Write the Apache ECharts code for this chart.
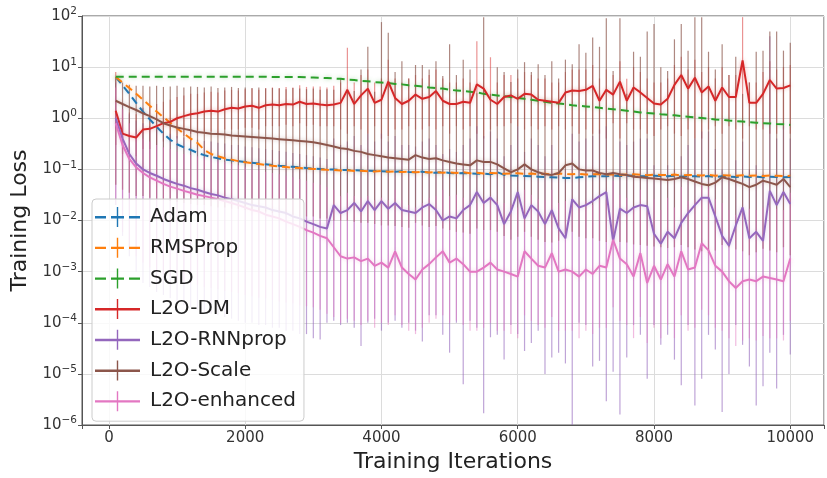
<!DOCTYPE html>
<html>
<head>
<meta charset="utf-8">
<script src="https://cdn.jsdelivr.net/npm/echarts@6/dist/echarts.min.js"></script>
<style>
  html, body { margin: 0; padding: 0; background: #fff; }
  #chart { width: 827px; height: 478px; }
</style>
</head>
<body>
<div id="chart"></div>
<script>
// Training iterations at which each optimizer was evaluated
const iterations = [
  100, 200, 300, 400, 500, 600, 700, 800, 900, 1000,
  1100, 1200, 1300, 1400, 1500, 1600, 1700, 1800, 1900, 2000,
  2100, 2200, 2300, 2400, 2500, 2600, 2700, 2800, 2900, 3000,
  3100, 3200, 3300, 3400, 3500, 3600, 3700, 3800, 3900, 4000,
  4100, 4200, 4300, 4400, 4500, 4600, 4700, 4800, 4900, 5000,
  5100, 5200, 5300, 5400, 5500, 5600, 5700, 5800, 5900, 6000,
  6100, 6200, 6300, 6400, 6500, 6600, 6700, 6800, 6900, 7000,
  7100, 7200, 7300, 7400, 7500, 7600, 7700, 7800, 7900, 8000,
  8100, 8200, 8300, 8400, 8500, 8600, 8700, 8800, 8900, 9000,
  9100, 9200, 9300, 9400, 9500, 9600, 9700, 9800, 9900, 10000
];

// Mean training loss per optimizer
const adamLoss = [
  6.4, 4.4, 3.0, 2.0, 1.35, 0.95, 0.68, 0.5, 0.38, 0.31,
  0.27, 0.24, 0.21, 0.19, 0.175, 0.165, 0.155, 0.15, 0.145, 0.14,
  0.135, 0.13, 0.126, 0.122, 0.118, 0.115, 0.112, 0.109, 0.106, 0.104,
  0.102, 0.1, 0.099, 0.098, 0.097, 0.096, 0.095, 0.094, 0.093, 0.092,
  0.091, 0.09, 0.092, 0.089, 0.088, 0.09, 0.087, 0.086, 0.088, 0.085,
  0.084, 0.085, 0.083, 0.082, 0.083, 0.08, 0.088, 0.078, 0.076, 0.075,
  0.074, 0.073, 0.072, 0.071, 0.07, 0.069, 0.068, 0.068, 0.07, 0.072,
  0.073, 0.074, 0.073, 0.075, 0.074, 0.075, 0.076, 0.074, 0.073, 0.075,
  0.074, 0.073, 0.075, 0.072, 0.074, 0.073, 0.072, 0.074, 0.071, 0.073,
  0.072, 0.071, 0.073, 0.071, 0.072, 0.07, 0.072, 0.071, 0.07, 0.071
];
const rmspropLoss = [
  6.4, 5.0, 3.9, 3.0, 2.3, 1.75, 1.35, 1.05, 0.82, 0.64,
  0.5, 0.4, 0.33, 0.24, 0.2, 0.18, 0.165, 0.155, 0.145, 0.138,
  0.132, 0.127, 0.122, 0.118, 0.114, 0.111, 0.108, 0.106, 0.104, 0.102,
  0.1, 0.098, 0.097, 0.095, 0.096, 0.093, 0.094, 0.092, 0.091, 0.093,
  0.09, 0.091, 0.089, 0.09, 0.088, 0.09, 0.087, 0.088, 0.086, 0.087,
  0.085, 0.088, 0.084, 0.086, 0.083, 0.085, 0.084, 0.082, 0.083, 0.084,
  0.082, 0.083, 0.081, 0.082, 0.08, 0.083, 0.081, 0.08, 0.082, 0.079,
  0.08, 0.081, 0.079, 0.08, 0.078, 0.079, 0.08, 0.078, 0.077, 0.079,
  0.078, 0.077, 0.079, 0.076, 0.078, 0.077, 0.076, 0.078, 0.075, 0.077,
  0.076, 0.075, 0.077, 0.075, 0.076, 0.074, 0.076, 0.075, 0.074, 0.075
];
const sgdLoss = [
  6.5, 6.5, 6.5, 6.5, 6.5, 6.5, 6.5, 6.5, 6.5, 6.5,
  6.5, 6.5, 6.5, 6.5, 6.5, 6.5, 6.5, 6.5, 6.5, 6.5,
  6.5, 6.5, 6.5, 6.4, 6.4, 6.4, 6.4, 6.4, 6.3, 6.3,
  6.2, 6.1, 6.0, 5.9, 5.7, 5.6, 5.4, 5.3, 5.1, 5.0,
  4.9, 4.7, 4.6, 4.4, 4.3, 4.2, 4.0, 3.9, 3.8, 3.6,
  3.5, 3.4, 3.3, 3.2, 3.0, 2.9, 2.8, 2.7, 2.6, 2.5,
  2.4, 2.3, 2.2, 2.1, 2.0, 1.95, 1.9, 1.8, 1.75, 1.7,
  1.65, 1.6, 1.55, 1.5, 1.45, 1.4, 1.35, 1.3, 1.27, 1.24,
  1.2, 1.17, 1.14, 1.1, 1.07, 1.04, 1.01, 0.98, 0.95, 0.93,
  0.9, 0.88, 0.86, 0.84, 0.82, 0.8, 0.79, 0.77, 0.76, 0.74
];
const dmLoss = [
  1.4, 0.5, 0.45, 0.42, 0.6, 0.62, 0.7, 0.8, 0.85, 1.0,
  1.1, 1.2, 1.25, 1.35, 1.4, 1.35, 1.5, 1.6, 1.55, 1.7,
  1.75, 1.6, 1.8, 1.85, 1.8, 1.9, 1.85, 2.1, 1.9, 1.95,
  1.85, 1.8, 1.85, 2.0, 3.6, 1.9, 2.8, 3.8, 2.0, 2.3,
  5.2, 2.5, 1.9, 2.2, 2.9, 2.4, 2.6, 3.4, 2.2, 1.9,
  1.9, 2.1, 2.0, 4.6, 3.8, 2.3, 1.9, 2.6, 2.8, 2.4,
  3.0, 2.9, 2.3, 2.2, 2.1, 2.0, 3.2, 3.5, 3.4, 3.6,
  4.3, 2.2, 3.6, 2.9, 5.2, 2.2, 4.0, 3.2, 2.5, 1.95,
  1.85, 2.4, 4.5, 7.0, 3.8, 6.2, 3.2, 4.2, 2.2, 4.0,
  2.6, 2.6, 13.5, 2.0, 2.0, 3.0, 5.6, 3.8, 3.9, 4.4
];
const rnnpropLoss = [
  1.0, 0.4, 0.2, 0.13, 0.1, 0.085, 0.075, 0.065, 0.058, 0.052,
  0.048, 0.043, 0.04, 0.036, 0.033, 0.031, 0.028, 0.026, 0.024, 0.022,
  0.02, 0.019, 0.018, 0.016, 0.015, 0.014, 0.012, 0.011, 0.0095, 0.0085,
  0.0075, 0.007, 0.02, 0.014, 0.016, 0.022, 0.015, 0.024, 0.016, 0.024,
  0.017, 0.022, 0.016, 0.015, 0.014, 0.018, 0.021, 0.016, 0.01, 0.012,
  0.011, 0.016, 0.02, 0.036, 0.022, 0.028, 0.02, 0.0085, 0.015, 0.036,
  0.011, 0.02, 0.015, 0.0085, 0.016, 0.007, 0.0045, 0.026, 0.018, 0.02,
  0.024, 0.03, 0.036, 0.004, 0.017, 0.014, 0.018, 0.02, 0.019, 0.0055,
  0.0035, 0.006, 0.0045, 0.009, 0.014, 0.02, 0.028, 0.028, 0.012, 0.005,
  0.0032, 0.008, 0.018, 0.0045, 0.006, 0.004, 0.038, 0.02, 0.036, 0.021
];
const scaleLoss = [
  2.2, 1.9, 1.65, 1.45, 1.25, 1.1, 0.95, 0.8, 0.72, 0.66,
  0.62, 0.58, 0.54, 0.52, 0.5, 0.49, 0.48, 0.46, 0.45, 0.44,
  0.43, 0.42, 0.41, 0.4, 0.39, 0.38, 0.37, 0.36, 0.35, 0.34,
  0.32, 0.3, 0.28, 0.26, 0.25, 0.23, 0.22, 0.2, 0.19, 0.18,
  0.17, 0.165, 0.16, 0.155, 0.19, 0.17, 0.16, 0.165, 0.15, 0.14,
  0.13, 0.125, 0.12, 0.15, 0.14, 0.14, 0.125, 0.105, 0.088, 0.1,
  0.125, 0.1, 0.088, 0.08, 0.078, 0.085, 0.12, 0.13, 0.1, 0.095,
  0.095, 0.085, 0.08, 0.085, 0.08, 0.078, 0.072, 0.07, 0.068, 0.066,
  0.064, 0.062, 0.065, 0.07, 0.065, 0.058, 0.052, 0.049, 0.055, 0.07,
  0.065, 0.058, 0.052, 0.045, 0.05, 0.06, 0.055, 0.05, 0.065, 0.045
];
const enhancedLoss = [
  0.8, 0.3, 0.16, 0.11, 0.085, 0.07, 0.06, 0.052, 0.046, 0.042,
  0.038, 0.035, 0.032, 0.03, 0.028, 0.026, 0.024, 0.022, 0.02, 0.018,
  0.016, 0.015, 0.013, 0.012, 0.011, 0.0095, 0.0085, 0.0075, 0.0065, 0.0058,
  0.005, 0.0045, 0.003, 0.002, 0.0018, 0.0019, 0.0016, 0.0018, 0.0013, 0.0015,
  0.0012, 0.0025, 0.0012, 0.0009, 0.0007, 0.0011, 0.0014, 0.0019, 0.0025, 0.0015,
  0.0018, 0.0014, 0.001, 0.001, 0.0012, 0.0015, 0.0011, 0.001, 0.0009, 0.0008,
  0.0025, 0.0018, 0.0013, 0.0012, 0.0023, 0.001, 0.0011, 0.001, 0.0008, 0.0011,
  0.0009, 0.0013, 0.0012, 0.0042, 0.0018, 0.0014, 0.0008, 0.0023, 0.0006, 0.0013,
  0.0007, 0.0014, 0.0008, 0.0025, 0.0011, 0.0012, 0.0036, 0.0026, 0.0013, 0.001,
  0.00065, 0.00048, 0.00065, 0.0007, 0.00065, 0.0008, 0.00075, 0.0007, 0.00065, 0.0018
];

// Spread of the learned optimizers across runs: lower and upper ends of each error bar
const dmLow = [
  0.3, 0.2, 0.2, 0.18, 0.25, 0.25, 0.3, 0.35, 0.35, 0.4,
  0.45, 0.5, 0.5, 0.55, 0.55, 0.5, 0.6, 0.6, 0.6, 0.65,
  0.65, 0.6, 0.7, 0.7, 0.7, 0.75, 0.7, 0.8, 0.7, 0.75,
  0.7, 0.7, 0.7, 0.6, 0.5, 0.7, 0.6, 0.5, 0.7, 0.4,
  0.45, 0.6, 0.6, 0.7, 0.6, 0.6, 0.7, 0.6, 0.7, 0.5,
  0.7, 0.6, 0.7, 0.5, 0.4, 0.6, 0.7, 0.7, 0.8, 0.7,
  0.6, 0.7, 0.6, 0.7, 0.6, 0.7, 0.6, 0.7, 0.5, 0.6,
  0.5, 0.5, 0.4, 0.8, 0.4, 0.8, 0.6, 0.6, 0.5, 0.45,
  0.6, 0.7, 0.5, 0.45, 0.6, 0.4, 0.4, 0.6, 0.7, 0.5,
  0.7, 0.6, 0.4, 0.7, 0.6, 0.6, 0.5, 0.5, 0.6, 0.5
];
const dmHigh = [
  8, 1.5, 1.3, 1.2, 1.6, 1.7, 1.9, 2.1, 2.3, 2.6,
  2.8, 3.0, 3.0, 3.2, 3.3, 3.2, 3.5, 3.6, 3.5, 3.7,
  3.8, 3.6, 3.9, 4.0, 3.9, 4.1, 4.0, 4.4, 4.1, 4.2,
  4.2, 4.0, 4.3, 5, 24, 5, 7, 9, 5, 6,
  14, 6, 5, 6, 7, 6, 7, 9, 6, 5,
  5, 6, 5, 32, 9, 15.6, 5, 7, 7, 6,
  8, 7, 6, 6, 5, 5, 8, 9, 9, 9,
  11, 6, 9, 7, 13, 5.9, 10, 8, 6, 5,
  5, 6, 11, 16, 9, 14, 8, 10, 6, 10,
  7, 7, 95, 5, 5, 8, 13, 9, 10, 11
];
const rnnpropLow = [
  0.02, 0.005, 0.002, 0.001, 6e-4, 5e-4, 4e-4, 3.5e-4, 3e-4, 2.5e-4,
  2.2e-4, 2e-4, 1.8e-4, 1.6e-4, 1.5e-4, 1.4e-4, 1.3e-4, 1.2e-4, 1.1e-4, 1e-4,
  1e-4, 9e-5, 9e-5, 8e-5, 8e-5, 7e-5, 7e-5, 6e-5, 6e-5, 5e-5,
  4.7e-5, 1e-4, 1.1e-4, 9e-5, 1e-4, 8e-5, 3.5e-5, 1e-4, 1.2e-4, 7e-5,
  1e-4, 1.1e-4, 8e-5, 1e-4, 7e-5, 4.3e-5, 1.4e-4, 1.4e-4, 5.8e-5, 2.6e-5,
  1e-4, 6.3e-6, 1.1e-4, 8e-5, 1.7e-6, 5.2e-5, 5.8e-5, 1.9e-5, 9e-5, 6e-5,
  2.8e-5, 4e-5, 7e-5, 1e-5, 2.1e-5, 2.6e-5, 1.6e-5, 1e-6, 1e-4, 9e-5,
  1.4e-5, 1.8e-5, 2.9e-6, 1.1e-5, 1.6e-6, 2.1e-5, 9e-5, 5.8e-5, 8e-6, 9e-5,
  3.7e-5, 5.8e-5, 1.9e-5, 6e-6, 9e-5, 2.4e-6, 8e-6, 5.8e-5, 3e-5, 1.8e-6,
  1e-5, 9e-5, 3.7e-5, 1.4e-5, 2.4e-6, 5.7e-6, 2.6e-5, 5.2e-6, 5.8e-5, 2.4e-5
];
const rnnpropHigh = [
  5, 2, 1.2, 0.9, 0.8, 0.7, 0.6, 0.55, 0.5, 0.45,
  0.42, 0.4, 0.38, 0.36, 0.35, 0.33, 0.32, 0.3, 0.3, 0.28,
  0.27, 0.26, 0.25, 0.24, 0.23, 0.22, 0.21, 0.2, 0.19, 0.18,
  0.17, 0.16, 0.4, 0.3, 0.35, 0.45, 0.3, 0.5, 0.35, 0.5,
  0.35, 0.45, 0.3, 0.3, 0.28, 0.35, 0.4, 0.3, 0.2, 0.25,
  0.22, 0.3, 0.4, 0.7, 0.45, 0.55, 0.4, 0.18, 0.3, 0.7,
  0.22, 0.4, 0.3, 0.18, 0.3, 0.15, 0.1, 0.5, 0.35, 0.4,
  0.45, 0.6, 0.7, 0.09, 0.35, 0.3, 0.35, 0.4, 0.4, 0.12,
  0.08, 0.12, 0.1, 0.18, 0.3, 0.4, 0.55, 0.55, 0.25, 0.1,
  0.07, 0.15, 0.35, 0.1, 0.12, 0.08, 40, 0.4, 0.7, 0.4
];
const scaleLow = [
  0.05, 0.04, 0.035, 0.03, 0.03, 0.028, 0.026, 0.025, 0.024, 0.023,
  0.022, 0.021, 0.02, 0.02, 0.019, 0.018, 0.018, 0.017, 0.017, 0.016,
  0.016, 0.015, 0.015, 0.014, 0.014, 0.013, 0.013, 0.012, 0.012, 0.012,
  0.011, 0.011, 0.01, 0.01, 0.01, 0.0095, 0.009, 0.009, 0.0085, 0.008,
  0.008, 0.0078, 0.0075, 0.0072, 0.009, 0.008, 0.0075, 0.0078, 0.007, 0.0065,
  0.006, 0.0058, 0.0055, 0.007, 0.0065, 0.0065, 0.006, 0.005, 0.0042, 0.0048,
  0.006, 0.0048, 0.0042, 0.0038, 0.0037, 0.004, 0.0055, 0.006, 0.0048, 0.0045,
  0.0045, 0.004, 0.0038, 0.004, 0.0038, 0.0037, 0.0034, 0.0033, 0.0032, 0.0031,
  0.003, 0.0029, 0.003, 0.0033, 0.003, 0.0027, 0.0025, 0.0023, 0.0026, 0.0033,
  0.003, 0.0027, 0.0025, 0.0021, 0.0024, 0.0028, 0.0026, 0.0024, 0.003, 0.0021
];
const scaleHigh = [
  6, 5, 4.5, 4.3, 4.3, 4.2, 4.3, 4.1, 4.2, 4.3,
  4.0, 4.2, 4.1, 4.0, 4.2, 3.9, 4.0, 4.1, 3.9, 4.0,
  3.9, 4.0, 3.8, 3.9, 3.8, 3.7, 3.9, 3.8, 3.7, 3.8,
  3.6, 3.7, 3.6, 6, 3.6, 3.4, 9, 25, 3.3, 76,
  47, 8, 13, 6, 11, 11, 9, 13, 6.7, 28,
  7, 14, 9, 3.1, 95, 3, 10, 8, 5.1, 9,
  12.5, 8, 11.4, 7, 13, 6, 14, 11.4, 28, 19,
  38, 25, 90, 8.4, 90, 3, 20, 16, 50, 70,
  10, 8.4, 35, 70, 21, 95, 95, 20, 9, 28,
  7, 16, 3, 5, 20, 21, 50, 50, 21, 30
];
const enhancedLow = [
  0.02, 0.006, 0.003, 0.002, 0.0015, 0.0012, 0.001, 9e-4, 8e-4, 7e-4,
  6.5e-4, 6e-4, 5.5e-4, 5e-4, 4.8e-4, 4.5e-4, 4.2e-4, 4e-4, 3.8e-4, 3.5e-4,
  3.3e-4, 3.1e-4, 3e-4, 2.8e-4, 2.6e-4, 2.5e-4, 2.4e-4, 2.2e-4, 2.1e-4, 2e-4,
  1.8e-4, 1.5e-4, 1.3e-4, 1e-4, 1.2e-4, 1.1e-4, 9e-5, 1.1e-4, 8e-5, 1e-4,
  9e-5, 1.4e-4, 9e-5, 7e-5, 6e-5, 8e-5, 1e-4, 1.2e-4, 1.4e-4, 1e-4,
  1.1e-4, 9e-5, 7e-5, 7e-5, 8e-5, 1e-4, 7e-5, 7e-5, 6e-5, 5e-5,
  1.4e-4, 1.1e-4, 9e-5, 8e-5, 1.3e-4, 7e-5, 7e-5, 7e-5, 5e-5, 7e-5,
  6e-5, 8e-5, 8e-5, 2e-4, 1.1e-4, 9e-5, 5e-5, 1.3e-4, 4e-5, 8e-5,
  5e-5, 9e-5, 5e-5, 1.4e-4, 7e-5, 8e-5, 1.8e-4, 1.4e-4, 8e-5, 7e-5,
  5e-5, 3.5e-5, 4.5e-5, 5e-5, 4.5e-5, 5.5e-5, 5e-5, 5e-5, 4.5e-5, 1.1e-4
];
const enhancedHigh = [
  4, 1.5, 0.8, 0.5, 0.4, 0.35, 0.3, 0.27, 0.25, 0.22,
  0.2, 0.19, 0.18, 0.17, 0.16, 0.15, 0.14, 0.13, 0.12, 0.11,
  0.1, 0.095, 0.09, 0.085, 0.08, 0.075, 0.07, 0.065, 0.06, 0.055,
  0.05, 0.045, 0.04, 0.03, 0.035, 0.03, 0.028, 0.03, 0.025, 0.028,
  0.025, 0.04, 0.025, 0.02, 0.018, 0.022, 0.028, 0.03, 0.04, 0.03,
  0.032, 0.028, 0.022, 0.022, 0.025, 0.03, 0.024, 0.022, 0.02, 0.018,
  0.04, 0.032, 0.026, 0.025, 0.04, 0.022, 0.024, 0.022, 0.018, 0.024,
  0.02, 0.026, 0.025, 0.06, 0.032, 0.028, 0.018, 0.04, 0.015, 0.026,
  0.016, 0.028, 0.018, 0.045, 0.024, 0.025, 0.055, 0.045, 0.026, 0.022,
  0.016, 0.013, 0.016, 0.017, 0.016, 0.018, 0.018, 0.017, 0.016, 0.035
];

const yTickExponents = [-6, -5, -4, -3, -2, -1, 0, 1, 2];
const xTickLabels = [0, 2000, 4000, 6000, 8000, 10000];

const FONT = 'DejaVu Sans';
const COLORS = {
  adam: '#1f77b4', rmsprop: '#ff7f0e', sgd: '#2ca02c', dm: '#d62728',
  rnnprop: '#9467bd', scale: '#8c564b', enhanced: '#e377c2'
};

function rgba(hex, a) {
  const n = parseInt(hex.slice(1), 16);
  return 'rgba(' + (n >> 16) + ',' + ((n >> 8) & 255) + ',' + (n & 255) + ',' + a + ')';
}

function lineSeries(name, values, color, dashed) {
  return {
    name: name,
    type: 'line',
    data: iterations.map((x, i) => [x, values[i]]),
    showSymbol: false,
    symbol: 'none',
    z: 3,
    lineStyle: {
      color: color,
      width: 2,
      type: dashed ? [8, 5] : 'solid',
      shadowColor: rgba(color, 0.35),
      shadowBlur: 4
    },
    itemStyle: { color: color },
    emphasis: { disabled: true },
    animation: false
  };
}

function errorBarSeries(name, low, high, color, alpha) {
  return {
    name: name + ' spread',
    type: 'custom',
    data: iterations.map((x, i) => [x, low[i], high[i]]),
    encode: { x: 0, y: [1, 2] },
    clip: true,
    z: 1,
    silent: true,
    animation: false,
    renderItem: function (params, api) {
      const a = api.coord([api.value(0), api.value(1)]);
      const b = api.coord([api.value(0), api.value(2)]);
      return {
        type: 'line',
        shape: { x1: a[0], y1: a[1], x2: b[0], y2: b[1] },
        style: { stroke: rgba(color, alpha), lineWidth: 1.2 }
      };
    }
  };
}

// Legend glyphs: dashed line with an error-bar tick, or solid line with a tick
const dashedIcon = 'path://M0 9h11v2.4h-11z M16 9h13v2.4h-13z M34 9h11v2.4h-11z M21.8 0h1.4v20h-1.4z';
const solidIcon = 'path://M0 9h45v2.4h-45z M21.8 0h1.4v20h-1.4z';

const chart = echarts.init(document.getElementById('chart'), null, { renderer: 'canvas' });

chart.setOption({
  backgroundColor: '#fff',
  animation: false,
  grid: {
    left: 82, right: 2, top: 16, bottom: 47,
    show: true, borderColor: '#555', borderWidth: 1, backgroundColor: '#fff'
  },
  xAxis: {
    type: 'value',
    min: -395,
    max: 10495,
    splitNumber: 5,
    name: 'Training Iterations',
    nameLocation: 'middle',
    nameGap: 26,
    nameTextStyle: { fontFamily: FONT, fontSize: 22, color: '#222' },
    axisLine: { show: true, onZero: false, lineStyle: { color: '#555', width: 1 } },
    axisTick: { show: true, length: 4, lineStyle: { color: '#555' } },
    axisLabel: {
      margin: 6,
      fontFamily: FONT, fontSize: 15, color: '#333',
      formatter: function (v) { return xTickLabels.indexOf(v) >= 0 ? String(v) : ''; }
    },
    splitLine: { show: true, lineStyle: { color: '#dcdcdc', width: 1 } }
  },
  yAxis: {
    type: 'log',
    logBase: 10,
    min: 1e-6,
    max: 100,
    splitNumber: 8,
    name: 'Training Loss',
    nameLocation: 'middle',
    nameGap: 45,
    nameTextStyle: { fontFamily: FONT, fontSize: 22, color: '#222' },
    axisLine: { show: true, onZero: false, lineStyle: { color: '#555', width: 1 } },
    axisTick: { show: true, length: 4, lineStyle: { color: '#555' } },
    axisLabel: {
      margin: 5,
      formatter: function (v) {
        const e = Math.round(Math.log10(v));
        if (yTickExponents.indexOf(e) < 0) return '';
        return '{b|10}{s|' + (e < 0 ? '\u2212' + (-e) : String(e)) + '}';
      },
      rich: {
        b: { fontFamily: FONT, fontSize: 15, color: '#333' },
        s: { fontFamily: FONT, fontSize: 10.5, color: '#333', padding: [0, 0, 9, 0] }
      }
    },
    splitLine: { show: true, lineStyle: { color: '#dcdcdc', width: 1 } },
    minorTick: { show: false },
    minorSplitLine: { show: false }
  },
  legend: {
    orient: 'vertical',
    left: 92,
    top: 199,
    padding: [7, 8, 9, 3],
    itemGap: 8.7,
    itemWidth: 55,
    itemHeight: 20,
    symbolKeepAspect: true,
    backgroundColor: 'rgba(255,255,255,0.82)',
    borderColor: '#cccccc',
    borderWidth: 1,
    borderRadius: 4,
    selectedMode: false,
    textStyle: { fontFamily: FONT, fontSize: 20, color: '#222', lineHeight: 22 },
    data: [
      { name: 'Adam', icon: dashedIcon },
      { name: 'RMSProp', icon: dashedIcon },
      { name: 'SGD', icon: dashedIcon },
      { name: 'L2O-DM', icon: solidIcon },
      { name: 'L2O-RNNprop', icon: solidIcon },
      { name: 'L2O-Scale', icon: solidIcon },
      { name: 'L2O-enhanced', icon: solidIcon }
    ]
  },
  series: [
    errorBarSeries('L2O-DM', dmLow, dmHigh, COLORS.dm, 0.5),
    errorBarSeries('L2O-RNNprop', rnnpropLow, rnnpropHigh, COLORS.rnnprop, 0.6),
    errorBarSeries('L2O-Scale', scaleLow, scaleHigh, COLORS.scale, 0.7),
    errorBarSeries('L2O-enhanced', enhancedLow, enhancedHigh, COLORS.enhanced, 0.5),
    lineSeries('Adam', adamLoss, COLORS.adam, true),
    lineSeries('RMSProp', rmspropLoss, COLORS.rmsprop, true),
    lineSeries('SGD', sgdLoss, COLORS.sgd, true),
    lineSeries('L2O-DM', dmLoss, COLORS.dm, false),
    lineSeries('L2O-RNNprop', rnnpropLoss, COLORS.rnnprop, false),
    lineSeries('L2O-Scale', scaleLoss, COLORS.scale, false),
    lineSeries('L2O-enhanced', enhancedLoss, COLORS.enhanced, false)
  ]
});
</script>
</body>
</html>
